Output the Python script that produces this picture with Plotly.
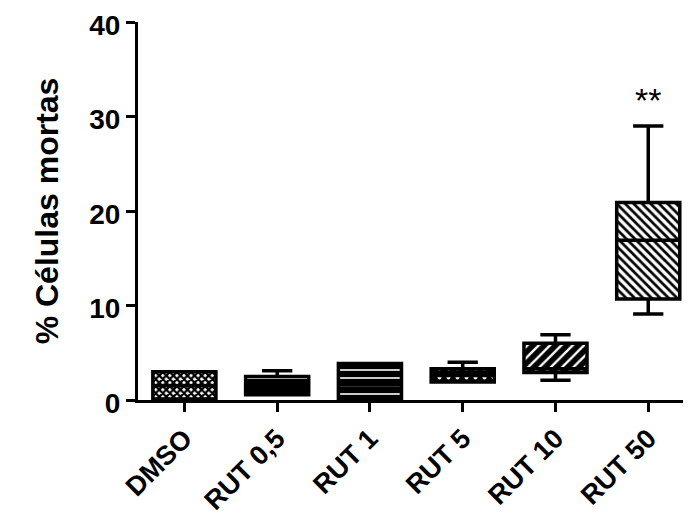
import plotly.graph_objects as go

categories = ["DMSO", "RUT 0,5", "RUT 1", "RUT 5", "RUT 10", "RUT 50"]
q1_vals = [0.1, 0.55, 0.1, 1.9, 2.9, 10.7]
median_vals = [1.5, 1.4, 1.6, 2.6, 3.3, 16.9]
q3_vals = [3.0, 2.5, 3.85, 3.3, 6.0, 20.9]
lower_vals = [0.1, 0.55, 0.1, 1.9, 2.1, 9.1]
upper_vals = [3.0, 3.1, 3.85, 4.0, 6.9, 29.0]
y_ticks = [0, 10, 20, 30, 40]
signif_text = "**"

xpos = list(range(len(categories)))
FONT = "Liberation Sans, Arial, sans-serif"

fig = go.Figure()

# patterned box fills
fig.add_trace(go.Bar(
    x=xpos,
    base=q1_vals,
    y=[b - a for a, b in zip(q1_vals, q3_vals)],
    width=0.68,
    marker=dict(
        color="black",
        line=dict(width=0),
        pattern=dict(
            shape=["x", "-", "-", ".", "/", "\\"],
            fgcolor=["black", "white", "white", "white", "white", "black"],
            bgcolor=["white", "black", "black", "black", "black", "white"],
            size=[5, 9, 8, 9, 8, 6],
            solidity=[0.7, 0.3, 0.2, 0.15, 0.3, 0.45],
            fillmode="replace",
        ),
    ),
    hoverinfo="skip",
    showlegend=False,
))

fig.add_trace(go.Box(
    x=xpos,
    q1=q1_vals,
    median=median_vals,
    q3=q3_vals,
    lowerfence=lower_vals,
    upperfence=upper_vals,
    width=0.68,
    whiskerwidth=0.48,
    fillcolor="rgba(0,0,0,0)",
    line=dict(color="black", width=3.5),
    boxpoints=False,
    hoverinfo="skip",
    showlegend=False,
))

fig.add_annotation(
    x=5, y=31.7, text=signif_text, showarrow=False,
    font=dict(family=FONT, size=34, color="black"),
    xanchor="center", yanchor="middle",
)

# page body has an 8px default margin, so the figure is sized to fit the window
fig.update_layout(
    width=683, height=516,
    margin=dict(l=130, r=1, t=14, b=124),
    plot_bgcolor="white",
    paper_bgcolor="white",
    font=dict(family=FONT, color="black"),
    bargap=0,
    showlegend=False,
)

fig.update_xaxes(
    range=[-0.5, 5.45],
    automargin=False,
    tickmode="array",
    tickvals=xpos,
    ticktext=categories,
    tickangle=-45,
    tickfont=dict(family=FONT, size=27, weight="bold", color="black"),
    ticklabeloverflow="allow",
    showline=True, linecolor="black", linewidth=3,
    ticks="outside", ticklen=9, tickwidth=3, tickcolor="black",
    showgrid=False, zeroline=False,
)

fig.update_yaxes(
    range=[0, 40],
    automargin=False,
    tickmode="array",
    tickvals=y_ticks,
    tickfont=dict(family=FONT, size=28, weight="bold", color="black"),
    ticklabeloverflow="allow",
    ticklabelshift=3,
    title=dict(text="% Células mortas", font=dict(family=FONT, size=32, weight="bold", color="black"), standoff=22),
    showline=True, linecolor="black", linewidth=3,
    ticks="outside", ticklen=9, tickwidth=3, tickcolor="black",
    showgrid=False, zeroline=False,
)

fig.write_html("out.html")
